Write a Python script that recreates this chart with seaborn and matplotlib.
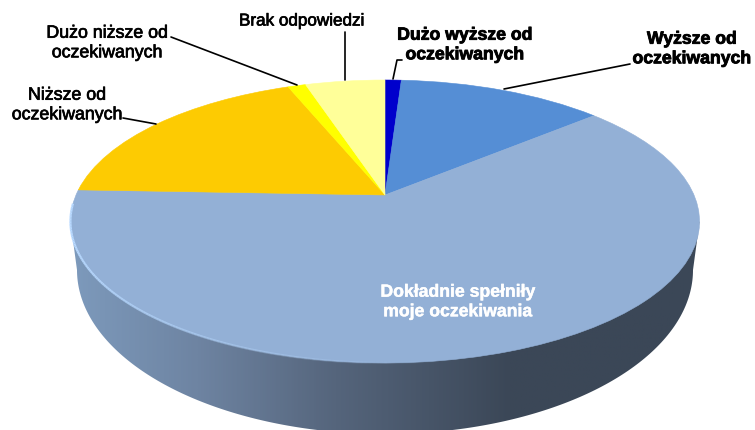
import matplotlib
matplotlib.use('Agg')
import matplotlib.pyplot as plt
import matplotlib.patheffects as pe
import matplotlib.transforms as mtransforms
from matplotlib.collections import LineCollection
from matplotlib.colors import LinearSegmentedColormap
from matplotlib.patches import Polygon
import seaborn as sns
import numpy as np

# Slices, clockwise from twelve o'clock
categories = ['Dużo wyższe od oczekiwanych', 'Wyższe od oczekiwanych',
              'Dokładnie spełniły moje oczekiwania', 'Niższe od oczekiwanych',
              'Dużo niższe od oczekiwanych', 'Brak odpowiedzi']
shares = [1.0, 12.7, 61.9, 18.4, 1.1, 4.9]
slice_colors = ['#0000CC', '#558ED5', '#93B0D6', '#FDCB02', '#FFFF00', '#FFFF99']
side_colors = ['#7D9ABC', '#6E84A2', '#55657C', '#3B4757', '#3B4757']


class Tilt(mtransforms.Transform):
    # unit circle -> tilted disc in pixel coordinates
    input_dims = 2
    output_dims = 2

    def __init__(self, cx, cy, sx, sy, k):
        super().__init__()
        self.cx, self.cy, self.sx, self.sy, self.k = cx, cy, sx, sy, k

    def transform_non_affine(self, values):
        values = np.asarray(values)
        w = 1 + self.k * values[:, 1]
        return np.column_stack([self.cx + self.sx * values[:, 0] / w,
                                self.cy - self.sy * values[:, 1] / w])


sns.set_theme(style='white')
plt.rcParams['font.family'] = ['Liberation Sans', 'DejaVu Sans']

fig = plt.figure(figsize=(7.55, 4.3), dpi=100)
ax = fig.add_axes([0, 0, 1, 1])

top = Tilt(385, 195, 309, 136.5, 0.187)

wedges, _ = ax.pie(shares, colors=sns.color_palette(slice_colors), startangle=90,
                   counterclock=False, wedgeprops={'linewidth': 0.4})
for w, c in zip(wedges, slice_colors):
    w.set_edgecolor(c)
    w.set_transform(top + ax.transData)
    w.set_zorder(3)

ax.set_aspect('auto')
ax.set_xlim(0, 755)
ax.set_ylim(430, 0)
ax.axis('off')

# Side wall: bottom outline of the disc, filled with a left to right gradient
t = np.linspace(np.pi, 2 * np.pi, 200)
lower = np.column_stack([385 + 308 * np.cos(t), 270 + 164 * np.sin(-t)])
upper = top.transform(np.column_stack([np.cos(t), np.sin(t)]))
left_i = upper[:, 0].argmin()
right_i = upper[:, 0].argmax()
outline = np.vstack([upper[left_i], lower, upper[right_i], upper[left_i]])
wall = Polygon(outline, closed=True, transform=ax.transData, fc='none', ec='none')
ax.add_patch(wall)
side_map = LinearSegmentedColormap.from_list(
    'side', list(zip([0, 0.2, 0.42, 0.7, 1], side_colors)))
grad = ax.imshow(np.linspace(0, 1, 400)[None, :], cmap=side_map, aspect='auto',
                 extent=(70, 700, 440, 190), zorder=1)
grad.set_clip_path(wall)
ax.set_xlim(0, 755)
ax.set_ylim(430, 0)

# Pale highlight along the lower left rim, fading out to the right
t = np.linspace(np.pi * 1.02, np.pi * 1.56, 160)
rim = top.transform(np.column_stack([np.cos(t), np.sin(t)]))
rim_segs = np.stack([rim[:-1], rim[1:]], axis=1)
fade = np.clip(np.linspace(1.2, 0, len(rim_segs)), 0, 1)
rim_line = LineCollection(rim_segs, colors=[(0.72, 0.85, 1.0, a) for a in fade],
                          linewidths=1.6, zorder=4)
ax.add_collection(rim_line)

# Leader lines
ax.plot([171, 297], [37, 85], color='black', lw=1.2, zorder=5)
ax.plot([345, 345], [32, 80], color='black', lw=1.2, zorder=5)
ax.plot([402, 397, 393], [60, 60, 79], color='black', lw=1.2, zorder=5)
ax.plot([630, 504], [64, 89], color='black', lw=1.2, zorder=5)
ax.plot([123, 156], [118, 124], color='black', lw=1.2, zorder=5)

thick = [pe.withStroke(linewidth=0.5, foreground='black')]
heavy = [pe.withStroke(linewidth=0.6, foreground='black')]
soft = [pe.withStroke(linewidth=0.3, foreground='white')]
ax.text(107, 43, 'Dużo niższe od\noczekiwanych', ha='center', va='center', fontsize=12.8,
        color='black', path_effects=thick, linespacing=1.2, zorder=6)
ax.text(67, 105, 'Niższe od\noczekiwanych', ha='center', va='center', fontsize=12.8,
        color='black', path_effects=thick, linespacing=1.2, zorder=6)
ax.text(302, 21, 'Brak odpowiedzi', ha='center', va='center', fontsize=12.3,
        color='black', path_effects=thick, zorder=6)
ax.text(465, 45, 'Dużo wyższe od\noczekiwanych', ha='center', va='center', fontsize=12.7,
        fontweight='bold', color='black', path_effects=heavy, linespacing=1.2, zorder=6)
ax.text(692, 49, 'Wyższe od\noczekiwanych', ha='center', va='center', fontsize=12.7,
        fontweight='bold', color='black', path_effects=heavy, linespacing=1.2, zorder=6)
ax.text(458, 302, 'Dokładnie spełniły\nmoje oczekiwania', ha='center', va='center',
        fontsize=12.7, fontweight='bold', color='white', path_effects=soft,
        linespacing=1.2, zorder=6)

fig.savefig('out.png', dpi=100)
